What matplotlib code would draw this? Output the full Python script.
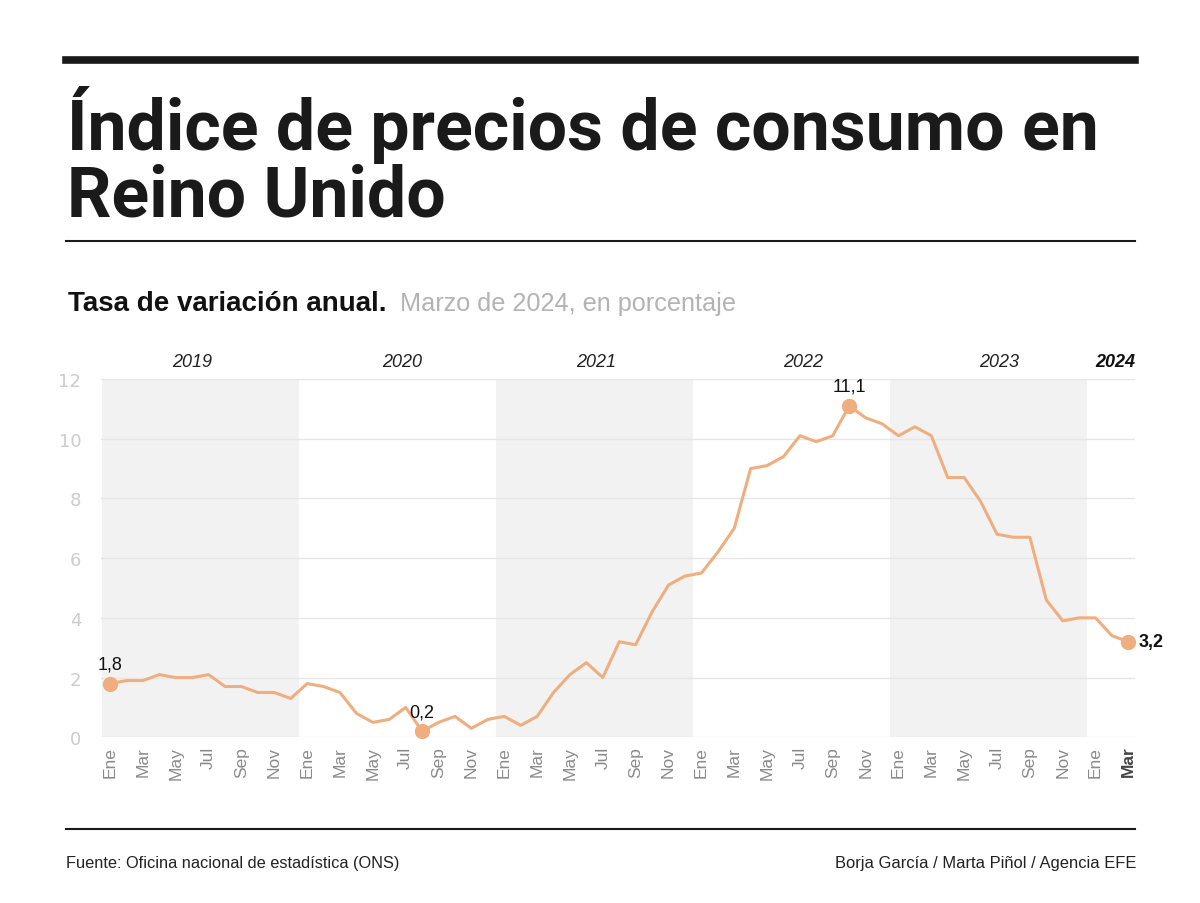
import matplotlib
matplotlib.use("Agg")
import matplotlib.pyplot as plt
from matplotlib.lines import Line2D
from matplotlib.transforms import blended_transform_factory

# Data: UK CPI annual rate, Jan 2019 - Mar 2024 (%)
years = [2019, 2020, 2021, 2022, 2023, 2024]
months = ["Ene", "Feb", "Mar", "Abr", "May", "Jun",
          "Jul", "Ago", "Sep", "Oct", "Nov", "Dic"]
cpi_2019 = [1.8, 1.9, 1.9, 2.1, 2.0, 2.0, 2.1, 1.7, 1.7, 1.5, 1.5, 1.3]
cpi_2020 = [1.8, 1.7, 1.5, 0.8, 0.5, 0.6, 1.0, 0.2, 0.5, 0.7, 0.3, 0.6]
cpi_2021 = [0.7, 0.4, 0.7, 1.5, 2.1, 2.5, 2.0, 3.2, 3.1, 4.2, 5.1, 5.4]
cpi_2022 = [5.5, 6.2, 7.0, 9.0, 9.1, 9.4, 10.1, 9.9, 10.1, 11.1, 10.7, 10.5]
cpi_2023 = [10.1, 10.4, 10.1, 8.7, 8.7, 7.9, 6.8, 6.7, 6.7, 4.6, 3.9, 4.0]
cpi_2024 = [4.0, 3.4, 3.2]
highlight = [("2019", "Ene"), ("2020", "Ago"), ("2022", "Oct"), ("2024", "Mar")]

values = cpi_2019 + cpi_2020 + cpi_2021 + cpi_2022 + cpi_2023 + cpi_2024
x = list(range(len(values)))
labels = []
for y in years:
    n = 12 if y != 2024 else len(cpi_2024)
    labels += [(str(y), m) for m in months[:n]]

W, H = 1200, 904
fig = plt.figure(figsize=(W / 100, H / 100), dpi=100)
renderer = fig.canvas.get_renderer()

sans = ["Liberation Sans", "DejaVu Sans"]
line_c = "#efae7f"

def fy(py):
    return 1 - py / H

def fx(px):
    return px / W

def fit(t, width):
    # shrink/grow a text so that it spans the given pixel width
    w = t.get_window_extent(renderer).width
    t.set_fontsize(t.get_fontsize() * width / w)
    return t

# rules
fig.add_artist(Line2D([fx(66), fx(1135)], [fy(61), fy(61)], color="#1a1a1a", lw=5.5))
fig.add_artist(Line2D([fx(66), fx(1135)], [fy(242), fy(242)], color="#1a1a1a", lw=1.5))
fig.add_artist(Line2D([fx(66), fx(1135)], [fy(830), fy(830)], color="#1a1a1a", lw=1.5))

# title
t1 = fig.text(fx(67), fy(150), "Índice de precios de consumo en", family=["Roboto"] + sans,
              weight="bold", fontsize=50, color="#1a1a1a", va="baseline")
fit(t1, 1030)
fig.text(fx(67), fy(217), "Reino Unido", family=["Roboto"] + sans, weight="bold",
         fontsize=t1.get_fontsize(), color="#1a1a1a", va="baseline")

# subtitle
t = fig.text(fx(68), fy(311), "Tasa de variación anual.", family=sans, weight="bold",
             fontsize=17, color="#111111", va="baseline")
fit(t, 320)
t2 = fig.text(fx(400), fy(311), "Marzo de 2024, en porcentaje", family=sans,
              fontsize=17, color="#b3b3b3", va="baseline")
fit(t2, 336)

# footer
f1 = fig.text(fx(66), fy(868), "Fuente: Oficina nacional de estadística (ONS)", family=sans,
              fontsize=13, color="#222222", va="baseline")
fit(f1, 334)
f2 = fig.text(fx(1136), fy(868), "Borja García / Marta Piñol / Agencia EFE", family=sans,
              fontsize=13, color="#222222", va="baseline", ha="right")
fit(f2, 298)

# chart
ax = fig.add_axes([fx(100.7), fy(738.3), fx(1135) - fx(100.7), (738.3 - 380) / H])
ax.set_xlim(-0.57, 62.4)
ax.set_ylim(0, 12)

for i, y in enumerate(years):
    if i % 2 == 0 and y != 2024:
        start = i * 12
        ax.axvspan(start - 0.5, start + 11.5, color="#f2f2f2", lw=0, zorder=0)

ax.set_yticks(range(0, 13, 2))
ax.grid(axis="y", color="#e6e6e6", lw=1, zorder=1)
ax.grid(axis="x", visible=False)
for s in ax.spines.values():
    s.set_visible(False)

ax.plot(x, values, color=line_c, lw=2.2, zorder=3)

# month ticks
tick_pos = [i for i in x if labels[i][1] in ("Ene", "Mar", "May", "Jul", "Sep", "Nov")]
ax.set_xticks(tick_pos)
ax.set_xticklabels([labels[i][1] for i in tick_pos], rotation=90, family=sans,
                   fontsize=12.5, color="#8a8a8a")
ax.get_xticklabels()[-1].set_weight("bold")
ax.get_xticklabels()[-1].set_color("#444444")
ax.tick_params(axis="x", length=0, pad=6)
ax.tick_params(axis="y", length=0, pad=14, labelcolor="#cccccc", labelsize=13)

# year labels
tr = blended_transform_factory(ax.transData, ax.transAxes)
year_x = [5.0, 17.8, 29.6, 42.2, 54.1]
for i, y in enumerate(years):
    if y == 2024:
        ax.text(62.4, 1.05, str(y), transform=tr, ha="right", va="center", family=sans,
                style="italic", weight="bold", fontsize=13, color="#111111")
    else:
        ax.text(year_x[i], 1.05, str(y), transform=tr, ha="center", va="center",
                family=sans, style="italic", fontsize=13, color="#222222")

# highlighted points
for yr, m in highlight:
    i = labels.index((yr, m))
    v = values[i]
    ax.plot(i, v, "o", ms=10, color=line_c, zorder=4, clip_on=False)
    txt = f"{v:.1f}".replace(".", ",")
    if i == len(values) - 1:
        ax.annotate(txt, (i, v), xytext=(7, 0), textcoords="offset points", ha="left",
                    va="center", family=sans, weight="bold", fontsize=13, color="#111111")
    else:
        ax.annotate(txt, (i, v), xytext=(0, 8), textcoords="offset points", ha="center",
                    va="bottom", family=sans, fontsize=13, color="#111111")

fig.savefig("out.png", dpi=100)
